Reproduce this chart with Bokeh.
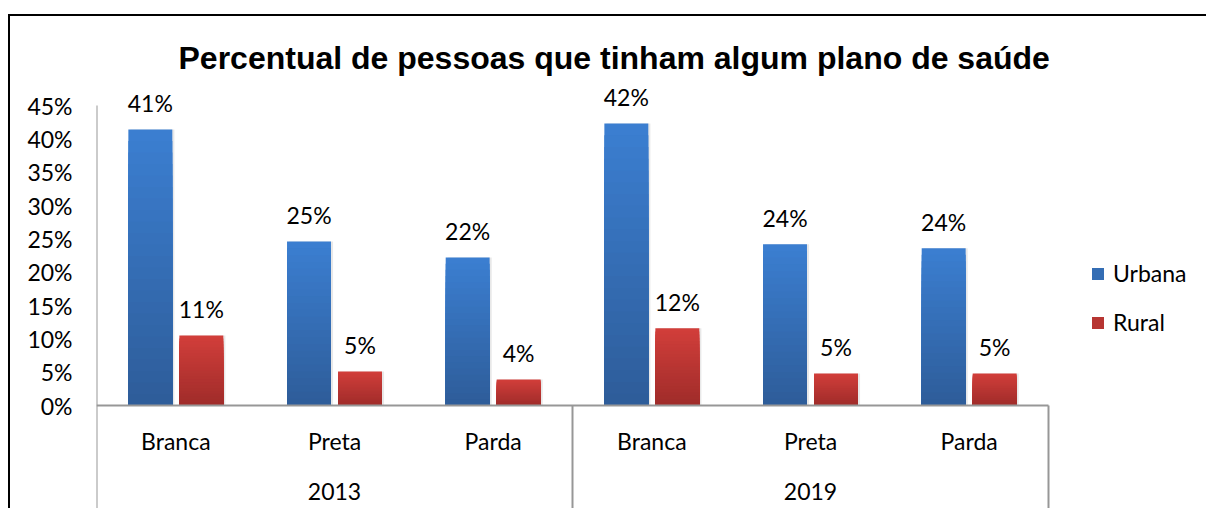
from bokeh.plotting import figure
from bokeh.models import (ColumnDataSource, Range1d, FixedTicker,
                          PrintfTickFormatter, Legend, LegendItem, Title)
from bokeh.core.properties import value
from bokeh.embed import file_html
from bokeh.resources import INLINE

# ---- data ----
years = ["2013", "2019"]
races = ["Branca", "Preta", "Parda"]
series_names = ["Urbana", "Rural"]
urbana = [41.4, 24.6, 22.2, 42.3, 24.2, 23.6]
rural = [10.5, 5.1, 3.9, 11.6, 4.8, 4.8]
urbana_labels = ["41%", "25%", "22%", "42%", "24%", "24%"]
rural_labels = ["11%", "5%", "4%", "12%", "5%", "5%"]
y_ticks = [0, 5, 10, 15, 20, 25, 30, 35, 40, 45]
title_text = "Percentual de pessoas que tinham algum plano de saúde"

factors = [(y, r) for y in years for r in races]
n_cat = len(factors)
centers = [i + 0.5 for i in range(n_cat)]           # category slots on the x scale
group_size = len(races)
group_centers = [g * group_size + group_size / 2 for g in range(len(years))]
group_edges = [g * group_size for g in range(len(years) + 1)]

# ---- style ----
FONT = "Lato"
FS = "23px"
AXIS_GRAY = "#979797"
BLUE_TOP, BLUE_BOT = (59, 126, 208), (46, 93, 154)
RED_TOP, RED_BOT = (209, 62, 58), (160, 44, 42)
N_LAYERS = 24
BAR_W = 0.277
OFF = 0.1607
Y_MIN, Y_MAX = -15.45, 48
W, H = 1198, 494
LEFT, TOP, BOTTOM = 86, 69, 2
X_END = (W - LEFT) / 158.667          # blank room on the right for the legend


def mix(c1, c2, t):
    return "#%02x%02x%02x" % tuple(int(round(a + (b - a) * t)) for a, b in zip(c1, c2))


p = figure(x_range=Range1d(0, X_END), y_range=Range1d(Y_MIN, Y_MAX),
           width=W, height=H,
           min_border_left=LEFT, min_border_right=0,
           min_border_top=TOP, min_border_bottom=BOTTOM,
           x_axis_location=None,
           output_backend="svg", toolbar_location=None)
p.styles = {"margin-left": "8px", "margin-top": "14px",
            "border-left": "2px solid black", "border-top": "2px solid black"}
p.grid.visible = False
p.outline_line_color = None
p.background_fill_color = "white"
p.border_fill_color = "white"

ax = p.yaxis[0]
ax.ticker = FixedTicker(ticks=y_ticks)
ax.formatter = PrintfTickFormatter(format="%d%%")
ax.axis_line_color = None
ax.major_tick_line_color = None
ax.minor_tick_line_color = None
ax.major_tick_out = 0
ax.major_tick_in = 0
ax.major_label_standoff = 24
ax.major_label_text_font = FONT
ax.major_label_text_font_size = FS
ax.major_label_text_color = "black"

# ---- bars (vertical gradient via stacked overlapping layers) ----
xu = [c - OFF for c in centers]
xr = [c + OFF for c in centers]
src = ColumnDataSource(dict(xu=xu, xr=xr, u=urbana, r=rural,
                            ul=urbana_labels, rl=rural_labels))

legend_refs = {}
for name, xs, vals, ctop, cbot in [("Urbana", xu, urbana, BLUE_TOP, BLUE_BOT),
                                   ("Rural", xr, rural, RED_TOP, RED_BOT)]:
    sh = ColumnDataSource(dict(x=[x + 0.013 for x in xs], top=vals))
    p.vbar(x="x", top="top", bottom=0, width=BAR_W, source=sh,
           fill_color="#bdbdbd", fill_alpha=0.35, line_color=None)
    for k in range(N_LAYERS):
        frac = 1 - k / N_LAYERS
        s = ColumnDataSource(dict(x=xs, top=[v * frac for v in vals]))
        col = mix(ctop, cbot, k / (N_LAYERS - 1))
        rr = p.vbar(x="x", top="top", bottom=0, width=BAR_W, source=s,
                    fill_color=col, line_color=None)
        if k == N_LAYERS // 2:
            legend_refs[name] = rr

# ---- data labels ----
for xcol, col, lab in [("xu", "u", "ul"), ("xr", "r", "rl")]:
    p.text(x=xcol, y=col, text=lab, source=src,
           text_align="center", text_baseline="middle", y_offset=-26.5,
           text_font=value(FONT), text_font_size=FS, text_color="black")

# ---- axis lines / separators ----
p.segment(x0=[group_edges[0]], x1=[group_edges[-1]], y0=[0], y1=[0],
          line_color=AXIS_GRAY, line_width=2)
p.segment(x0=group_edges, x1=group_edges,
          y0=[y_ticks[-1]] + [0] * (len(group_edges) - 1), y1=[Y_MIN] * len(group_edges),
          line_color=AXIS_GRAY, line_width=2)

# category labels
p.text(x=centers, y=[-5.25] * n_cat, text=[f[1] for f in factors], text_align="center",
       text_baseline="middle", text_font=value(FONT), text_font_size=FS,
       text_color="black")
p.text(x=group_centers, y=[-12.97] * len(years), text=years, text_align="center",
       text_baseline="middle", text_font=value(FONT), text_font_size=FS,
       text_color="black")

# ---- title ----
p.add_layout(Title(text=title_text, align="left", offset=82, standoff=20,
                   text_font="Liberation Sans", text_font_style="bold",
                   text_font_size="32px", text_color="black"), "above")

# ---- legend ----
legend = Legend(items=[LegendItem(label=n, renderers=[legend_refs[n]]) for n in series_names],
                location=(994, 172), orientation="vertical",
                glyph_width=15, glyph_height=15, label_standoff=8, spacing=21,
                padding=0, margin=0, border_line_color=None, background_fill_alpha=0,
                label_text_font=FONT, label_text_font_size=FS, label_text_color="black")
p.add_layout(legend)

open("out.html", "w").write(file_html(p, INLINE))
